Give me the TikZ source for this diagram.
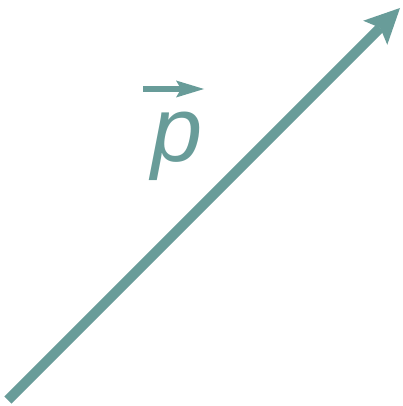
\documentclass[tikz,border=0pt]{standalone}
\usepackage{fontspec}
\setmainfont{Liberation Sans}
\usetikzlibrary{arrows.meta}
\definecolor{teal1}{RGB}{104,156,153}
\tikzset{
  mainarrow/.style={draw=teal1, line width=10pt, line cap=butt,
    -{Stealth[length=35pt, width=34pt, inset=7pt, line width=0pt]}},
  vecarrow/.style={draw=teal1, line width=5.5pt, line cap=butt,
    -{Stealth[length=28pt, width=17pt, inset=5pt, line width=0pt]}},
  label/.style={text=teal1, font=\fontsize{92}{92}\selectfont\itshape, inner sep=0pt}
}
\begin{document}
\begin{tikzpicture}[x=1pt, y=-1pt]
\useasboundingbox (0,0) rectangle (402,406);
\coordinate (start) at (8,400);
\coordinate (tip) at (400,8);
\draw[mainarrow] (start) -- (tip);
\node[label, anchor=base] (p) at (177,161) {p};
\coordinate (va) at (143,89);
\coordinate (vb) at (204,89);
\draw[vecarrow] (va) -- (vb);
\end{tikzpicture}
\end{document}
